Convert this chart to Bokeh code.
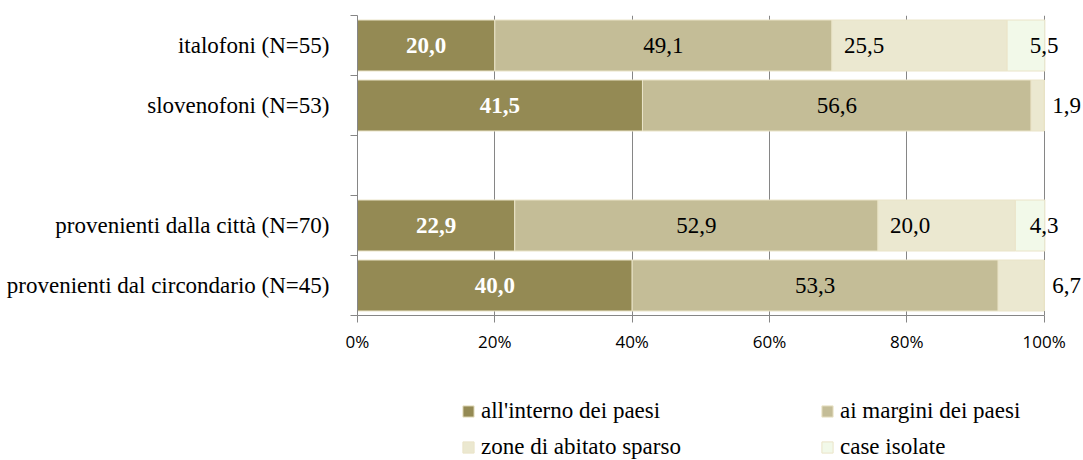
from bokeh.plotting import figure
from bokeh.layouts import column
from bokeh.models import ColumnDataSource, Range1d, FixedTicker, Legend, LegendItem
from bokeh.core.properties import value
from bokeh.embed import file_html
from bokeh.resources import INLINE

# ---- data ----
categories = ["italofoni (N=55)", "slovenofoni (N=53)", "",
              "provenienti dalla città (N=70)", "provenienti dal circondario (N=45)"]
series_names = ["all'interno dei paesi", "ai margini dei paesi",
                "zone di abitato sparso", "case isolate"]
interno = [20.0, 41.5, None, 22.9, 40.0]
margini = [49.1, 56.6, None, 52.9, 53.3]
sparso = [25.5, 1.9, None, 20.0, 6.7]
isolate = [5.5, 0.0, None, 4.3, 0.0]
x_ticks = [0, 20, 40, 60, 80, 100]
x_tick_labels = ["0%", "20%", "40%", "60%", "80%", "100%"]

colors = ["#948A54", "#C4BD97", "#EBE8D0", "#F2F9E9"]
edge = "#EAE4C8"
grid_col = "#868686"
serif = "Liberation Serif"

series = [interno, margini, sparso, isolate]
n = len(categories)
ypos = [n - i - 0.5 for i in range(n)]

W = 1083
frame_left = 357
frame_w = 686.7          # pixels spanning 0..100 %
x_end = 100 * (W - frame_left) / frame_w

p = figure(width=W, height=360, x_range=Range1d(0, x_end), y_range=Range1d(0, n),
           output_backend="svg", toolbar_location=None,
           min_border_left=frame_left, min_border_right=0, min_border_top=15, min_border_bottom=45)
p.outline_line_color = None
p.background_fill_color = "white"

# bars
sources = []
renderers = []
cum = [0.0] * n
label_x, label_y, label_t, label_c, label_align, label_off, label_style = [], [], [], [], [], [], []
for s, vals in enumerate(series):
    left, right, yy = [], [], []
    for i, v in enumerate(vals):
        if v is None:
            continue
        left.append(cum[i])
        right.append(cum[i] + v)
        yy.append(ypos[i])
        if v > 0:
            txt = f"{v:.1f}".replace(".", ",")
            is_last = all((series[k][i] or 0) == 0 for k in range(s + 1, len(series)))
            if s < 2:
                lx, al, off = cum[i] + v / 2, "center", 0
            elif s == 2:
                if is_last and v < 10:
                    lx, al, off = 100, "left", 8
                else:
                    lx, al, off = cum[i], "left", 12
            else:
                lx, al, off = 100, "center", 0
            label_x.append(lx); label_y.append(ypos[i]); label_t.append(txt)
            label_c.append("white" if s == 0 else "black")
            label_align.append(al); label_off.append(off)
            label_style.append("bold" if s == 0 else "normal")
        cum[i] += v
    src = ColumnDataSource(dict(left=left, right=right, y=yy))
    sources.append(src)
    r = p.hbar(y="y", left="left", right="right", height=0.85, source=src,
               fill_color=colors[s], line_color=edge, line_width=1)
    renderers.append(r)

lab_src = ColumnDataSource(dict(x=label_x, y=label_y, t=label_t, c=label_c,
                                a=label_align, o=label_off, st=label_style))
p.text(x="x", y="y", text="t", source=lab_src, text_color="c", text_align="a",
       x_offset="o", text_baseline="middle", text_font=value(serif),
       text_font_size="23px", text_font_style="st")

# axes
p.xaxis.bounds = (0, 100)
p.xaxis.ticker = FixedTicker(ticks=x_ticks)
p.xaxis.major_label_overrides = {t: l for t, l in zip(x_ticks, x_tick_labels)}
p.xaxis.major_label_text_font = "Open Sans"
p.xaxis.major_label_text_font_size = "17px"
p.xaxis.major_label_text_color = "black"
p.xaxis.axis_line_color = grid_col
p.xaxis.major_tick_line_color = grid_col
p.xaxis.major_tick_out = 7
p.xaxis.major_tick_in = 0
p.xaxis.minor_tick_line_color = None
p.xaxis.major_label_standoff = 7

p.yaxis.ticker = FixedTicker(ticks=ypos, minor_ticks=list(range(n + 1)))
p.yaxis.major_label_overrides = {y: c for y, c in zip(ypos, categories)}
p.yaxis.major_label_text_font = serif
p.yaxis.major_label_text_font_size = "23px"
p.yaxis.major_label_text_color = "black"
p.yaxis.axis_line_color = grid_col
p.yaxis.major_tick_line_color = None
p.yaxis.major_tick_out = 0
p.yaxis.major_tick_in = 0
p.yaxis.minor_tick_line_color = grid_col
p.yaxis.minor_tick_out = 7
p.yaxis.minor_tick_in = 0
p.yaxis.major_label_standoff = 21

p.ygrid.visible = False
p.xgrid.ticker = FixedTicker(ticks=x_ticks)
p.xgrid.grid_line_color = grid_col

# legend in its own strip below the chart (same bar sources, ranges chosen so bars stay out of view)
pl = figure(width=W, height=100, x_range=Range1d(0, x_end), y_range=Range1d(n + 1, n + 2),
            output_backend="svg", toolbar_location=None,
            x_axis_location=None, y_axis_location=None,
            min_border_left=frame_left, min_border_right=0, min_border_top=0, min_border_bottom=0)
pl.outline_line_color = None
pl.grid.visible = False
leg_renderers = []
for s in range(len(series)):
    leg_renderers.append(pl.hbar(y="y", left="left", right="right", height=0.85, source=sources[s],
                                 fill_color=colors[s], line_color=edge, line_width=1))
items = [LegendItem(label=name, renderers=[r]) for name, r in zip(series_names, leg_renderers)]
legend = Legend(items=items, orientation="horizontal", ncols=2, location=(104, 0),
                label_text_font=serif, label_text_font_size="23px", label_text_color="black",
                glyph_width=14, glyph_height=14, label_standoff=6, spacing=10,
                label_width=329, padding=0, margin=0, border_line_color=None,
                background_fill_alpha=0)
pl.add_layout(legend, "center")

layout = column(p, pl, spacing=0)
open("out.html", "w").write(file_html(layout, INLINE))
